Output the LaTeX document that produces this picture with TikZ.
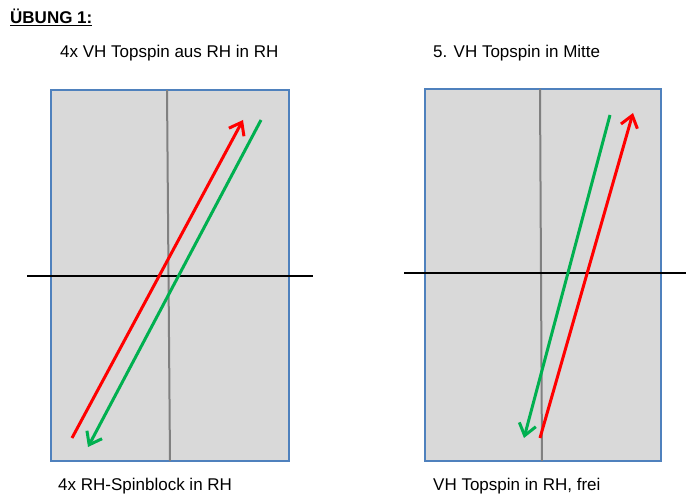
\documentclass[tikz,border=0pt]{standalone}
\usepackage{fontspec}
\setmainfont{Liberation Sans}
\usepackage{xcolor}
\usetikzlibrary{positioning,arrows.meta,calc}
\definecolor{courtc}{RGB}{217,217,217}
\definecolor{borderc}{RGB}{79,129,189}
\definecolor{midc}{RGB}{128,128,128}
\definecolor{redc}{RGB}{255,0,0}
\definecolor{greenc}{RGB}{0,176,80}
\tikzset{
  court/.style    = {draw=borderc, line width=1.6pt, fill=courtc},
  midline/.style  = {draw=midc, line width=2pt},
  net/.style      = {draw=black, line width=2pt},
  shot/.style     = {line width=3pt, -{Straight Barb[length=4mm,width=6mm,line width=3pt]}},
  caption/.style  = {font=\fontsize{17}{20}\selectfont, anchor=west, inner sep=0pt},
  heading/.style  = {font=\fontsize{17}{20}\selectfont\bfseries, anchor=west, inner sep=0pt},
}

\begin{document}
\begin{tikzpicture}[x=1pt,y=-1pt]
\useasboundingbox (0,0) rectangle (697,500);

% --- heading --------------------------------------------------------------
\node[heading] (title) at (10,17) {\underline{ÜBUNG 1:}};

% --- left court -----------------------------------------------------------
\node[caption] (lTop) at (60,53) {4x VH Topspin aus RH in RH};
\node[caption] (lBot) at (58,486) {4x RH-Spinblock in RH};
\draw[court] (51,90) rectangle (289,461);
\coordinate (lMidA) at (167,90);
\coordinate (lMidB) at (170,461);
\coordinate (lNetA) at (27,276);
\coordinate (lNetB) at (313,276);
\draw[midline] (lMidA) -- (lMidB);
\draw[net] (lNetA) -- (lNetB);
\coordinate (lRedA) at (72,438);
\coordinate (lRedB) at (243,120);
\coordinate (lGreenA) at (261,120);
\coordinate (lGreenB) at (88,447);
\draw[shot, redc] (lRedA) -- (lRedB);
\draw[shot, greenc] (lGreenA) -- (lGreenB);

% --- right court ----------------------------------------------------------
\node[caption] (rTop) at (433,53) {5. VH Topspin in Mitte};
\node[caption] (rBot) at (433,486) {VH Topspin in RH, frei};
\draw[court] (425,89) rectangle (661,461);
\coordinate (rMidA) at (540,89);
\coordinate (rMidB) at (542,461);
\coordinate (rNetA) at (404,273);
\coordinate (rNetB) at (686,273);
\draw[midline] (rMidA) -- (rMidB);
\draw[net] (rNetA) -- (rNetB);
\coordinate (rGreenA) at (610,115);
\coordinate (rGreenB) at (524,438);
\coordinate (rRedA) at (540,438);
\coordinate (rRedB) at (633,113);
\draw[shot, greenc] (rGreenA) -- (rGreenB);
\draw[shot, redc] (rRedA) -- (rRedB);

\end{tikzpicture}
\end{document}
